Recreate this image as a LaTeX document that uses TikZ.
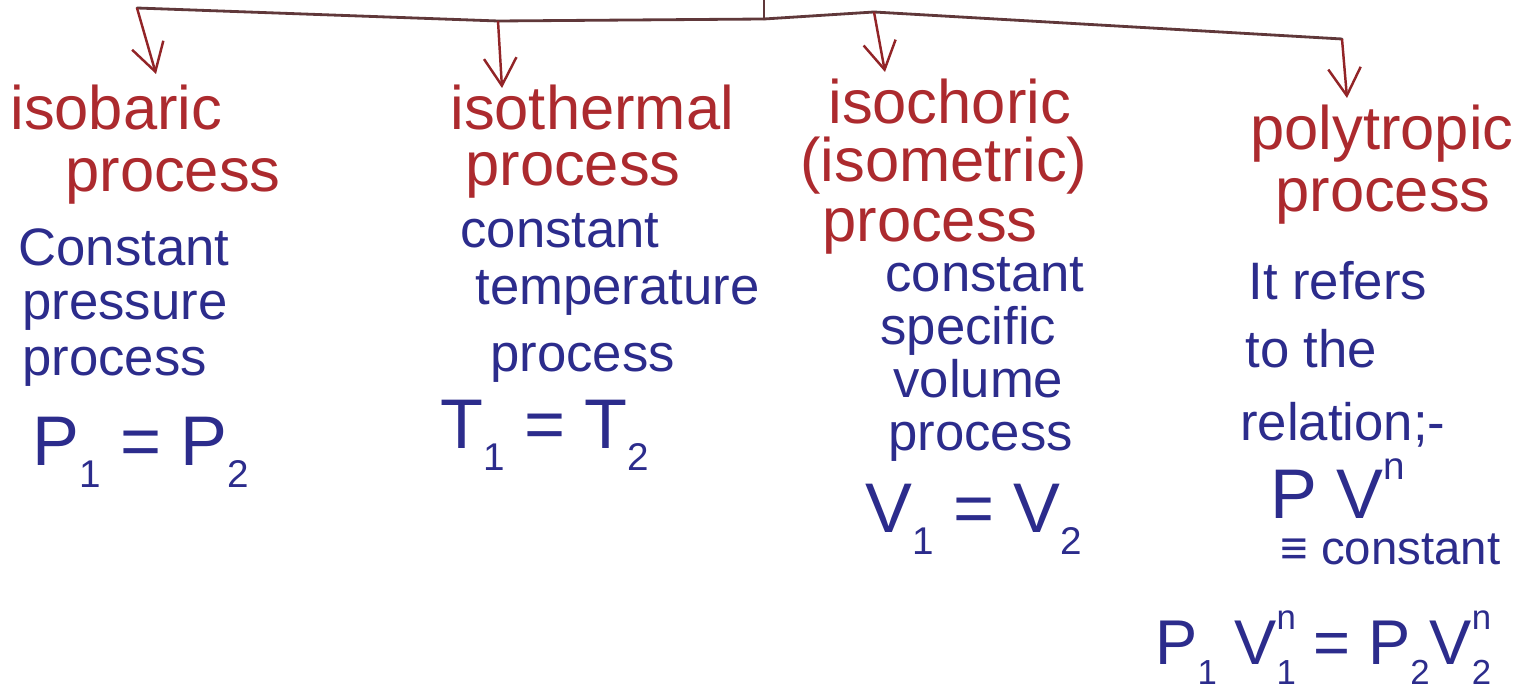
\documentclass[tikz,border=0pt]{standalone}
\usepackage{fontspec}
\usepackage{graphicx}
\setmainfont{Liberation Sans}
\usetikzlibrary{arrows.meta}
\definecolor{inkred}{RGB}{172,42,46}
\definecolor{inkblue}{RGB}{44,44,140}
\definecolor{inkbus}{RGB}{96,56,58}
\newcommand\ilow[1]{\raisebox{-0.32em}{\scalebox{0.55}{#1}}}
\newcommand\ihigh[1]{\raisebox{0.55em}{\scalebox{0.55}{#1}}}
\tikzset{
  title/.style={text=inkred, anchor=base west, inner sep=0pt, font=\fontsize{35}{38}\selectfont},
  note/.style={text=inkblue, anchor=base west, inner sep=0pt, font=\fontsize{30}{34}\selectfont},
  small note/.style={note, font=\fontsize{27}{30}\selectfont},
  law/.style={text=inkblue, anchor=base west, inner sep=0pt, font=\fontsize{40}{44}\selectfont},
  law small/.style={law, font=\fontsize{36}{40}\selectfont},
  bus/.style={draw=inkbus, line width=1.6pt, line join=round, line cap=round},
  drop/.style={draw=inkred!85!black, line width=1.4pt, -{Straight Barb[length=5.5mm,width=6.5mm]}},
}

\begin{document}
\begin{tikzpicture}[x=0.02cm,y=-0.02cm]
    \useasboundingbox (0,0) rectangle (1518,692);

    % bracket along the top
    \coordinate (top) at (764,0);
    \coordinate (hub) at (764,19);
    \coordinate (b1) at (137,8);
    \coordinate (b2) at (498,21);
    \coordinate (b3) at (874,12);
    \coordinate (b4) at (1342,39);
    \coordinate (a1) at (156,74);
    \coordinate (a2) at (502,88);
    \coordinate (a3) at (885,72);
    \coordinate (a4) at (1347,98);
    \draw[bus] (top)--(hub);
    \draw[bus] (b1)--(b2)--(hub)--(b3)--(b4);
    \draw[drop] (b1)--(a1);
    \draw[drop] (b2)--(a2);
    \draw[drop] (b3)--(a3);
    \draw[drop] (b4)--(a4);

    % isobaric
    \node[title] (t1a) at (10,130) {isobaric};
    \node[title] (t1b) at (65,192) {process};
    \node[note] (n1a) at (18,266) {Constant};
    \node[note] (n1b) at (22,320) {pressure};
    \node[note] (n1c) at (22,376) {process};
    \node[law] (f1) at (32,465) {P\ilow{1} = P\ilow{2}};

    % isothermal
    \node[title] (t2a) at (450,130) {isothermal};
    \node[title] (t2b) at (465,186) {process};
    \node[note] (n2a) at (460,248) {constant};
    \node[note] (n2b) at (475,305) {temperature};
    \node[note] (n2c) at (490,372) {process};
    \node[law] (f2) at (440,448) {T\ilow{1} = T\ilow{2}};

    % isochoric
    \node[title] (t3a) at (828,124) {isochoric};
    \node[title] (t3b) at (800,182) {(isometric)};
    \node[title] (t3c) at (822,242) {process};
    \node[note] (n3a) at (885,292) {constant};
    \node[note] (n3b) at (880,345) {specific};
    \node[note] (n3c) at (893,398) {volume};
    \node[note] (n3d) at (888,450) {process};
    \node[law] (f3) at (865,532) {V\ilow{1} = V\ilow{2}};

    % polytropic
    \node[title] (t4a) at (1250,150) {polytropic};
    \node[title] (t4b) at (1275,212) {process};
    \node[note] (n4a) at (1248,300) {It refers};
    \node[note] (n4b) at (1245,368) {to the};
    \node[note] (n4c) at (1240,440) {relation;-};
    \node[law] (f4a) at (1270,518) {P V\ihigh{n}};
    \node[small note] (f4b) at (1280,564) {≡ constant};
    \node[law small] (f4c) at (1155,664) {P\ilow{1} V\rlap{\ilow{1}}\ihigh{n} = P\ilow{2}V\rlap{\ilow{2}}\ihigh{n}};

\end{tikzpicture}
\end{document}
